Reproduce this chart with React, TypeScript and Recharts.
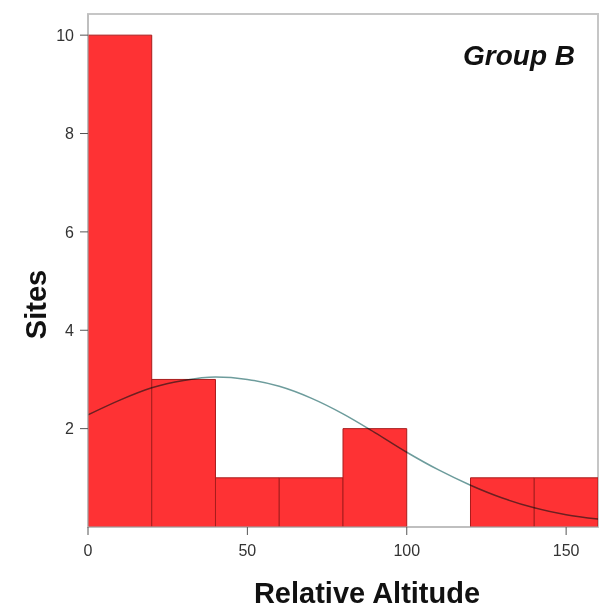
import { ComposedChart, Bar, Line, XAxis, YAxis, ReferenceArea } from "recharts";

// Histogram bins (lower edge of each 20-unit bin) and site counts
const binStarts = [0, 20, 40, 60, 80, 100, 120, 140];
const siteCounts = [10, 3, 1, 1, 2, 0, 1, 1];
const binWidth = 20;

// Fitted normal curve, read at every 10 units
const curveX = [0, 10, 20, 30, 40, 50, 60, 70, 80, 90, 100, 110, 120, 130, 140, 150, 160];
const curveY = [2.28, 2.58, 2.83, 2.98, 3.05, 3.0, 2.86, 2.62, 2.3, 1.92, 1.52, 1.16, 0.85, 0.59, 0.39, 0.25, 0.16];

const xTicks = [0, 50, 100, 150];
const yTicks = [2, 4, 6, 8, 10];

const X_MAX = 160;
const Y_MAX = 10.43;

const WIDTH = 591;
const HEIGHT = 600;
const MARGIN = { top: 6, right: 1, bottom: 0, left: 0 };
const Y_AXIS_W = 80;
const X_AXIS_H = 81;
const PLOT_W = WIDTH - MARGIN.left - MARGIN.right - Y_AXIS_W;
// a hair under the full band, otherwise recharts falls back to 90% bars
const BAR_W = PLOT_W / binStarts.length - 0.02;

const FONT = "'Liberation Sans', Arial, sans-serif";

const bins = binStarts.map((start, i) => ({
  x: start + binWidth / 2,
  label: `${start}-${start + binWidth}`,
  sites: siteCounts[i],
}));

const curve = curveX.map((x, i) => ({ x, density: curveY[i] }));

const tickStyle = { fontSize: 16, fill: "#333", fontFamily: FONT };
const titleStyle = { fontSize: 29, fontWeight: 700, fill: "#111", fontFamily: FONT };

export default function App() {
  return (
    // absolutely placed so the body margin doesn't push the page into scrolling
    <div style={{ position: "absolute", left: 8, top: 8, width: WIDTH, height: HEIGHT, background: "#fff" }}>
      <ComposedChart
        width={WIDTH}
        height={HEIGHT}
        data={bins}
        margin={MARGIN}
        barCategoryGap={0}
        barGap={0}
      >
        <XAxis
          xAxisId="x"
          dataKey="x"
          type="number"
          domain={[0, X_MAX]}
          ticks={xTicks}
          allowDataOverflow
          height={X_AXIS_H}
          tickSize={8}
          tickMargin={10}
          tick={tickStyle}
          stroke="#b8b8b8"
          tickLine={{ stroke: "#555" }}
          label={{
            value: "Relative Altitude",
            position: "insideBottom",
            offset: 5,
            dx: 24,
            style: titleStyle,
          }}
        />
        {/* separate hidden axis for the curve so its points don't shrink the bar width */}
        <XAxis
          xAxisId="curve"
          dataKey="x"
          type="number"
          domain={[0, X_MAX]}
          allowDataOverflow
          height={0}
          hide
        />
        <YAxis
          yAxisId="y"
          type="number"
          domain={[0, Y_MAX]}
          ticks={yTicks}
          allowDataOverflow
          width={Y_AXIS_W}
          tickSize={8}
          tickMargin={6}
          tick={tickStyle}
          stroke="#b8b8b8"
          tickLine={{ stroke: "#555" }}
          label={{
            value: "Sites",
            angle: -90,
            position: "insideLeft",
            offset: 28,
            dy: 34,
            style: { ...titleStyle, textAnchor: "middle" },
          }}
        />
        {/* plot frame */}
        <ReferenceArea
          xAxisId="x"
          yAxisId="y"
          x1={0}
          x2={X_MAX}
          y1={0}
          y2={Y_MAX}
          fill="none"
          stroke="#c6c6c6"
          strokeWidth={2}
          ifOverflow="visible"
        />
        <Bar
          xAxisId="x"
          yAxisId="y"
          dataKey="sites"
          barSize={BAR_W}
          fill="#fe3234"
          stroke="#a81c1c"
          strokeWidth={1}
          isAnimationActive={false}
        />
        <Line
          xAxisId="curve"
          yAxisId="y"
          data={curve}
          dataKey="density"
          type="monotone"
          stroke="#6d9c9c"
          strokeWidth={1.5}
          dot={false}
          activeDot={false}
          style={{ mixBlendMode: "multiply" }}
          isAnimationActive={false}
        />
        <text
          x={567}
          y={57}
          textAnchor="end"
          style={{ ...titleStyle, fontSize: 28, fontStyle: "italic" }}
        >
          Group B
        </text>
      </ComposedChart>
    </div>
  );
}
